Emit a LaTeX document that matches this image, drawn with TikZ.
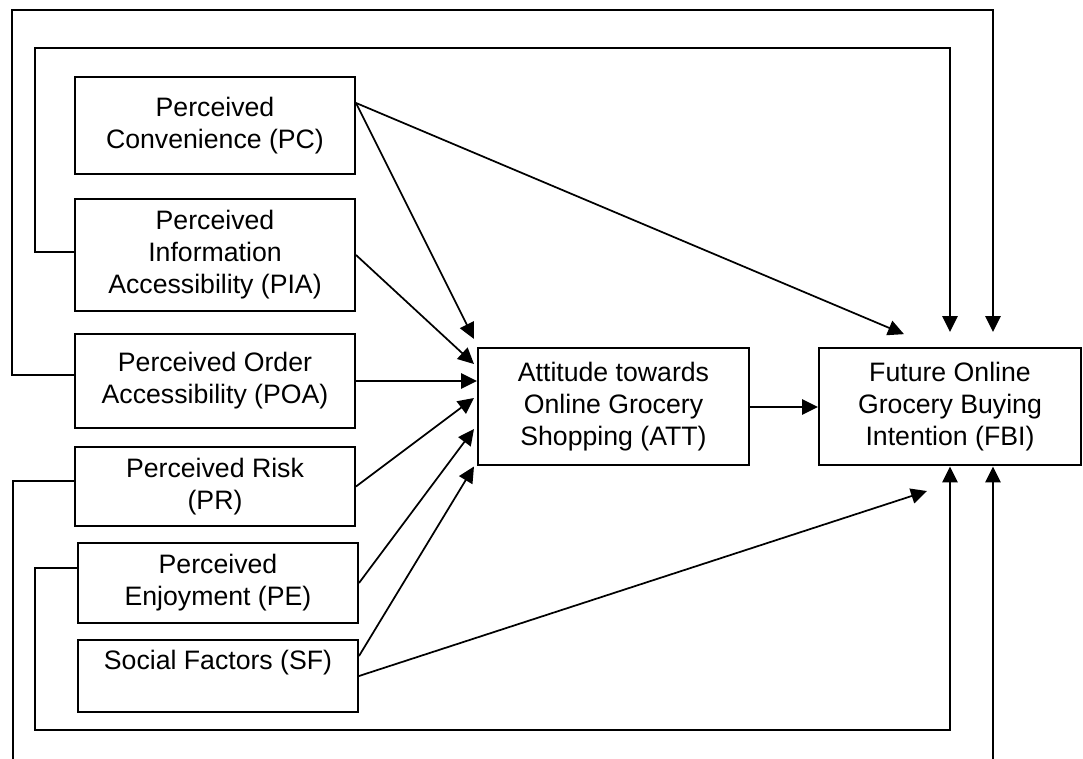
\documentclass[tikz,border=0pt]{standalone}
\usepackage{fontspec}
\setmainfont{Liberation Sans}
\usetikzlibrary{arrows.meta}

\begin{document}
\begin{tikzpicture}[
    x=0.75pt, y=-0.75pt,
    factor/.style={draw, line width=1.5pt, minimum width=210pt, minimum height=#1, align=center, inner sep=2pt, font=\fontsize{20}{24}\selectfont},
    arr/.style={-{Triangle[length=12pt,width=11.5pt]}, line width=1.3pt}
]
\useasboundingbox (0,0) rectangle (1083,759);
\clip (0,0) rectangle (1083,759);

\node[factor=72.75pt] (pc) at (215,125.5) {Perceived\\Convenience (PC)};
\node[factor=84pt] (pia) at (215,255) {Perceived\\Information\\Accessibility (PIA)};
\node[factor=70.5pt] (poa) at (215,381) {Perceived Order\\Accessibility (POA)};
\node[factor=59.25pt] (pr) at (215,486.5) {Perceived Risk\\(PR)};
\node[factor=60pt] (pe) at (218,583) {Perceived\\Enjoyment (PE)};
\node[factor=54pt] (sf) at (218,676) {Social Factors (SF)\\\mbox{}};
\node[factor=87.75pt, minimum width=203.25pt] (att) at (613.5,407) {Attitude towards\\Online Grocery\\Shopping (ATT)};
\node[factor=87.75pt, minimum width=196.5pt] (fbi) at (950,407) {Future Online\\Grocery Buying\\Intention (FBI)};

\draw[arr] ([yshift=16.9pt]pc.east) -- ([xshift=-2.25pt,yshift=6.4pt]att.north west);
\draw[arr] ([yshift=16.9pt]pc.east) -- ([xshift=64.5pt,yshift=10pt]fbi.north west);
\draw[arr] (pia.east) -- ([xshift=-2.25pt,yshift=-12.4pt]att.north west);
\draw[arr] (poa.east) -- (poa.east -| att.west);
\draw[arr] (pr.east) -- ([xshift=-2.25pt,yshift=6.75pt]att.west);
\draw[arr] (pe.east) -- ([xshift=-2.25pt,yshift=-16.5pt]att.west);
\draw[arr] ([yshift=15pt]sf.east) -- ([xshift=-2.25pt]att.south west);
\draw[arr] (sf.east) -- ([xshift=81.75pt,yshift=-18.4pt]fbi.south west);
\draw[arr] (att.east) -- (fbi.west);

\draw[arr] ([yshift=4.5pt]poa.west) -| (12,10) -| ([xshift=32.25pt,yshift=11.6pt]fbi.north);
\draw[arr] ([yshift=2.25pt]pia.west) -| (35,48) -| ([yshift=11.6pt]fbi.north);
\draw[arr] ([yshift=4.1pt]pr.west) -| (13,775) -| ([xshift=32.25pt]fbi.south);
\draw[arr] ([yshift=11.25pt]pe.west) -| (35,730) -| (fbi.south);
\end{tikzpicture}
\end{document}
